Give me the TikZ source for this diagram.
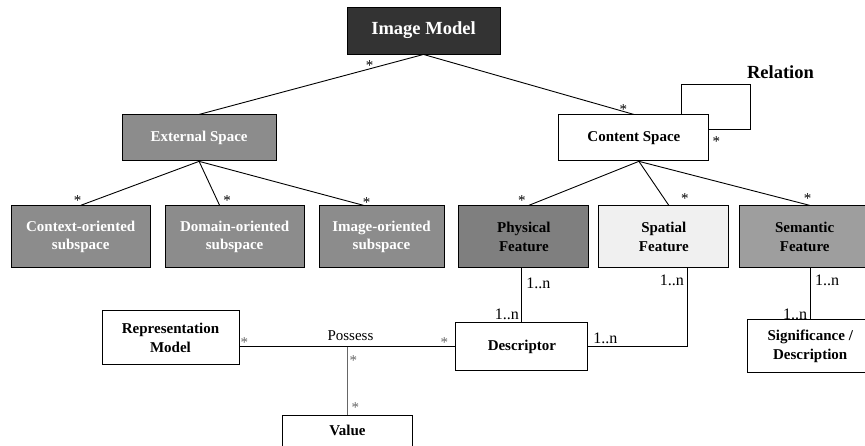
\documentclass[tikz,border=0pt]{standalone}
\usepackage{fontspec}
\setmainfont{Liberation Serif}
\usetikzlibrary{positioning,calc}

\definecolor{modelgray}{HTML}{333333}
\definecolor{spacegray}{HTML}{8C8C8C}
\definecolor{physgray}{HTML}{7F7F7F}
\definecolor{spatgray}{HTML}{F0F0F0}
\definecolor{semgray}{HTML}{9E9E9E}
\definecolor{linkgray}{HTML}{666666}

\begin{document}
\begin{tikzpicture}[
    x=1pt, y=1pt,
    every node/.style={font=\fontsize{15}{18}\selectfont, align=center},
    box/.style={rectangle, draw, line width=0.9pt, inner sep=2pt, font=\fontsize{15}{18.5}\selectfont\bfseries},
    modelbox/.style={box, fill=modelgray, text=white, minimum width=153pt, minimum height=47pt, font=\fontsize{18.5}{22}\selectfont\bfseries},
    spacebox/.style={box, minimum width=152pt, minimum height=46pt},
    subbox/.style={box, fill=spacegray, text=white, minimum width=139pt, minimum height=62pt},
    featbox/.style={box, minimum width=130pt, minimum height=62pt},
    mult/.style={inner sep=0pt},
    card/.style={inner sep=0pt, font=\fontsize{16}{18}\selectfont},
    link/.style={line width=0.9pt}
]
% Modello dell'immagine: spazi, feature e descrittori.
\useasboundingbox (0,0) rectangle (865,-446);

\node[modelbox] (im) at (423.5,-30.5) {Image Model};

\node[spacebox, fill=spacegray, text=white, minimum width=154pt, below left=60pt and 70pt of im] (ext) {External Space};
\node[spacebox, minimum width=150pt, below right=60pt and 58pt of im] (cs) {Content Space};

\node[subbox, below=44pt of ext, xshift=35.5pt] (dom) {Domain-oriented\\subspace};
\node[subbox, left=14pt of dom] (ctx) {Context-oriented\\subspace};
\node[subbox, minimum width=125pt, right=14pt of dom] (img) {Image-oriented\\subspace};

\node[featbox, fill=physgray, right=14pt of img] (phy) {Physical\\Feature};
\node[featbox, fill=spatgray, right=9pt of phy] (spa) {Spatial\\Feature};
\node[featbox, fill=semgray, right=10pt of spa] (sem) {Semantic\\Feature};

\node[box, minimum width=132pt, minimum height=48pt, below=54pt of phy, xshift=-2pt] (desc) {Descriptor};
\node[box, minimum width=125pt, minimum height=53pt, below=51pt of sem, xshift=5.5pt] (sig) {Significance /\\Description};
\node[box, minimum width=137pt, minimum height=54pt, left=216pt of desc, yshift=9pt] (rep) {Representation\\Model};
\coordinate (jn) at ($(rep.east |- desc.west)!0.5!(desc.west)$);
\node[box, minimum width=130pt, minimum height=31pt, below=68pt of jn] (val) {Value};

\draw[link] (im.south) -- (ext.north) node[mult, pos=0.24, yshift=3pt] (m1) {*};
\draw[link] (im.south) -- (cs.north) node[mult, pos=0.95, yshift=2pt] (m2) {*};
\draw[link] (ext.south) -- (ctx.north) node[mult, pos=1, xshift=-3pt, yshift=5pt] (m3) {*};
\draw[link] (ext.south) -- ([xshift=-15pt]dom.north) node[mult, pos=1, xshift=7.5pt, yshift=5pt] (m4) {*};
\draw[link] (ext.south) -- ([xshift=-18pt]img.north) node[mult, pos=1, xshift=3pt, yshift=3pt] (m5) {*};
\draw[link] ([xshift=5pt]cs.south) -- ([xshift=5pt]phy.north) node[mult, pos=1, xshift=-7pt, yshift=5pt] (m6) {*};
\draw[link] ([xshift=5pt]cs.south) -- ([xshift=5pt]spa.north) node[mult, pos=1, xshift=16pt, yshift=7pt] (m7) {*};
\draw[link] ([xshift=5pt]cs.south) -- ([xshift=5pt]sem.north) node[mult, pos=1, xshift=-2pt, yshift=7pt] (m8) {*};

\draw[link] ([xshift=48pt]cs.north) |- ++(69,30) coordinate (lp) |- ([yshift=8pt]cs.east)
    node[mult, xshift=7pt, yshift=-12pt] (m9) {*};
\node[font=\fontsize{18.5}{22}\selectfont\bfseries, inner sep=2pt, above right=4pt and -6pt of lp] (rel) {Relation};

\draw[link] (desc.north) -- (desc.north |- phy.south)
    node[card, pos=1, xshift=16.5pt, yshift=-15pt] (c1) {1..n}
    node[card, pos=0, xshift=-15pt, yshift=8pt] (c2) {1..n};
\draw[link] ([xshift=24pt]spa.south) |- (desc.east)
    node[card, pos=0, xshift=-16pt, yshift=-12pt] (c3) {1..n}
    node[card, pos=1, xshift=17pt, yshift=8pt] (c4) {1..n};
\draw[link] (sig.north) -- (sig.north |- sem.south)
    node[card, pos=1, xshift=17pt, yshift=-12pt] (c5) {1..n}
    node[card, pos=0, xshift=-15pt, yshift=5pt] (c6) {1..n};

\draw[link] (rep.east |- desc.west) -- (desc.west)
    node[mult, pos=0, xshift=5pt, yshift=4pt, text=linkgray] (m10) {*}
    node[pos=0.5, inner sep=0pt, xshift=3pt, yshift=11.5pt] (possess) {Possess}
    node[mult, pos=1, xshift=-11pt, yshift=4pt, text=linkgray] (m11) {*};
\draw[link, draw=linkgray] (jn) -- (val.north)
    node[mult, pos=0, xshift=6pt, yshift=-14pt, text=linkgray] (m12) {*}
    node[mult, pos=1, xshift=8pt, yshift=7pt, text=linkgray] (m13) {*};
\end{tikzpicture}
\end{document}
